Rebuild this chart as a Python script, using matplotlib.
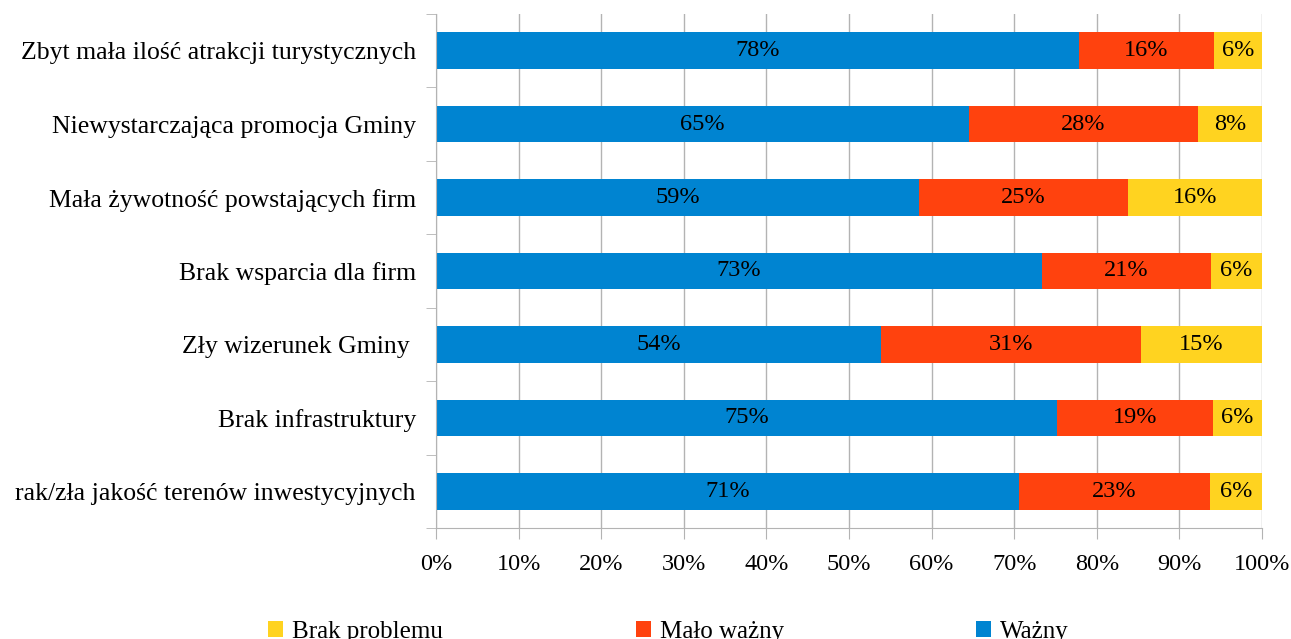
import matplotlib
matplotlib.use("Agg")
import matplotlib.pyplot as plt
import numpy as np

plt.rcParams['font.family'] = ['Liberation Serif', 'DejaVu Serif']

kategorie = [
    "Zbyt mała ilość atrakcji turystycznych",
    "Niewystarczająca promocja Gminy",
    "Mała żywotność powstających firm",
    "Brak wsparcia dla firm",
    "Zły wizerunek Gminy ",
    "Brak infrastruktury",
    "rak/zła jakość terenów inwestycyjnych",
]
wazny = [77.8, 64.5, 58.5, 73.4, 53.9, 75.2, 70.6]
malo_wazny = [16.4, 27.8, 25.3, 20.4, 31.5, 18.9, 23.1]
brak_problemu = [5.8, 7.7, 16.2, 6.2, 14.6, 5.9, 6.3]

etykiety_wazny = ["78%", "65%", "59%", "73%", "54%", "75%", "71%"]
etykiety_malo = ["16%", "28%", "25%", "21%", "31%", "19%", "23%"]
etykiety_brak = ["6%", "8%", "16%", "6%", "15%", "6%", "6%"]

kolor_wazny = "#0084d1"
kolor_malo = "#ff420e"
kolor_brak = "#ffd320"
szary = "#b3b3b3"

fig = plt.figure(figsize=(12.91, 6.39), dpi=100)
ax = fig.add_axes([0.3377, 0.1737, 0.6398, 0.8044])

y = np.arange(len(kategorie))
w = np.array(wazny)
m = np.array(malo_wazny)
b = np.array(brak_problemu)

ax.barh(y, w, height=0.5, color=kolor_wazny, label="Ważny", zorder=2)
ax.barh(y, m, left=w, height=0.5, color=kolor_malo, label="Mało ważny", zorder=2)
ax.barh(y, b, left=w + m, height=0.5, color=kolor_brak, label="Brak problemu", zorder=2)

fs = 17.5
for i in range(len(kategorie)):
    ax.text(w[i] / 2, y[i], etykiety_wazny[i], ha="center", va="center", fontsize=fs, zorder=3)
    ax.text(w[i] + m[i] / 2, y[i], etykiety_malo[i], ha="center", va="center", fontsize=fs, zorder=3)
    ax.text(w[i] + m[i] + b[i] / 2, y[i], etykiety_brak[i], ha="center", va="center", fontsize=fs, zorder=3)

ax.set_xlim(0, 100)
ax.set_ylim(len(kategorie) - 0.5, -0.5)
ax.set_xticks(np.arange(0, 101, 10))
ax.set_xticklabels([f"{v}%" for v in range(0, 101, 10)], fontsize=fs)
ax.tick_params(axis="x", length=8, color=szary, pad=11)

# etykiety kategorii bez kresek, kreski miedzy kategoriami
ax.set_yticks(y)
ax.set_yticklabels(kategorie, fontsize=18.5)
ax.tick_params(axis="y", length=0, pad=14.5)
ax.set_yticks(np.arange(-0.5, len(kategorie), 1), minor=True)
ax.tick_params(axis="y", which="minor", length=7, color=szary)

ax.grid(axis="x", color=szary, linewidth=1, zorder=0)
for s in ["top", "right"]:
    ax.spines[s].set_visible(False)
for s in ["left", "bottom"]:
    ax.spines[s].set_color(szary)

uchwyty, nazwy = ax.get_legend_handles_labels()
fig.legend(uchwyty[::-1], nazwy[::-1], loc="upper left", bbox_to_anchor=(0.2, 0.044),
           ncol=3, frameon=False, fontsize=18, handlelength=0.6, handleheight=0.6,
           handletextpad=0.36, columnspacing=7.7, borderaxespad=0)

fig.savefig("out.png", dpi=100)
